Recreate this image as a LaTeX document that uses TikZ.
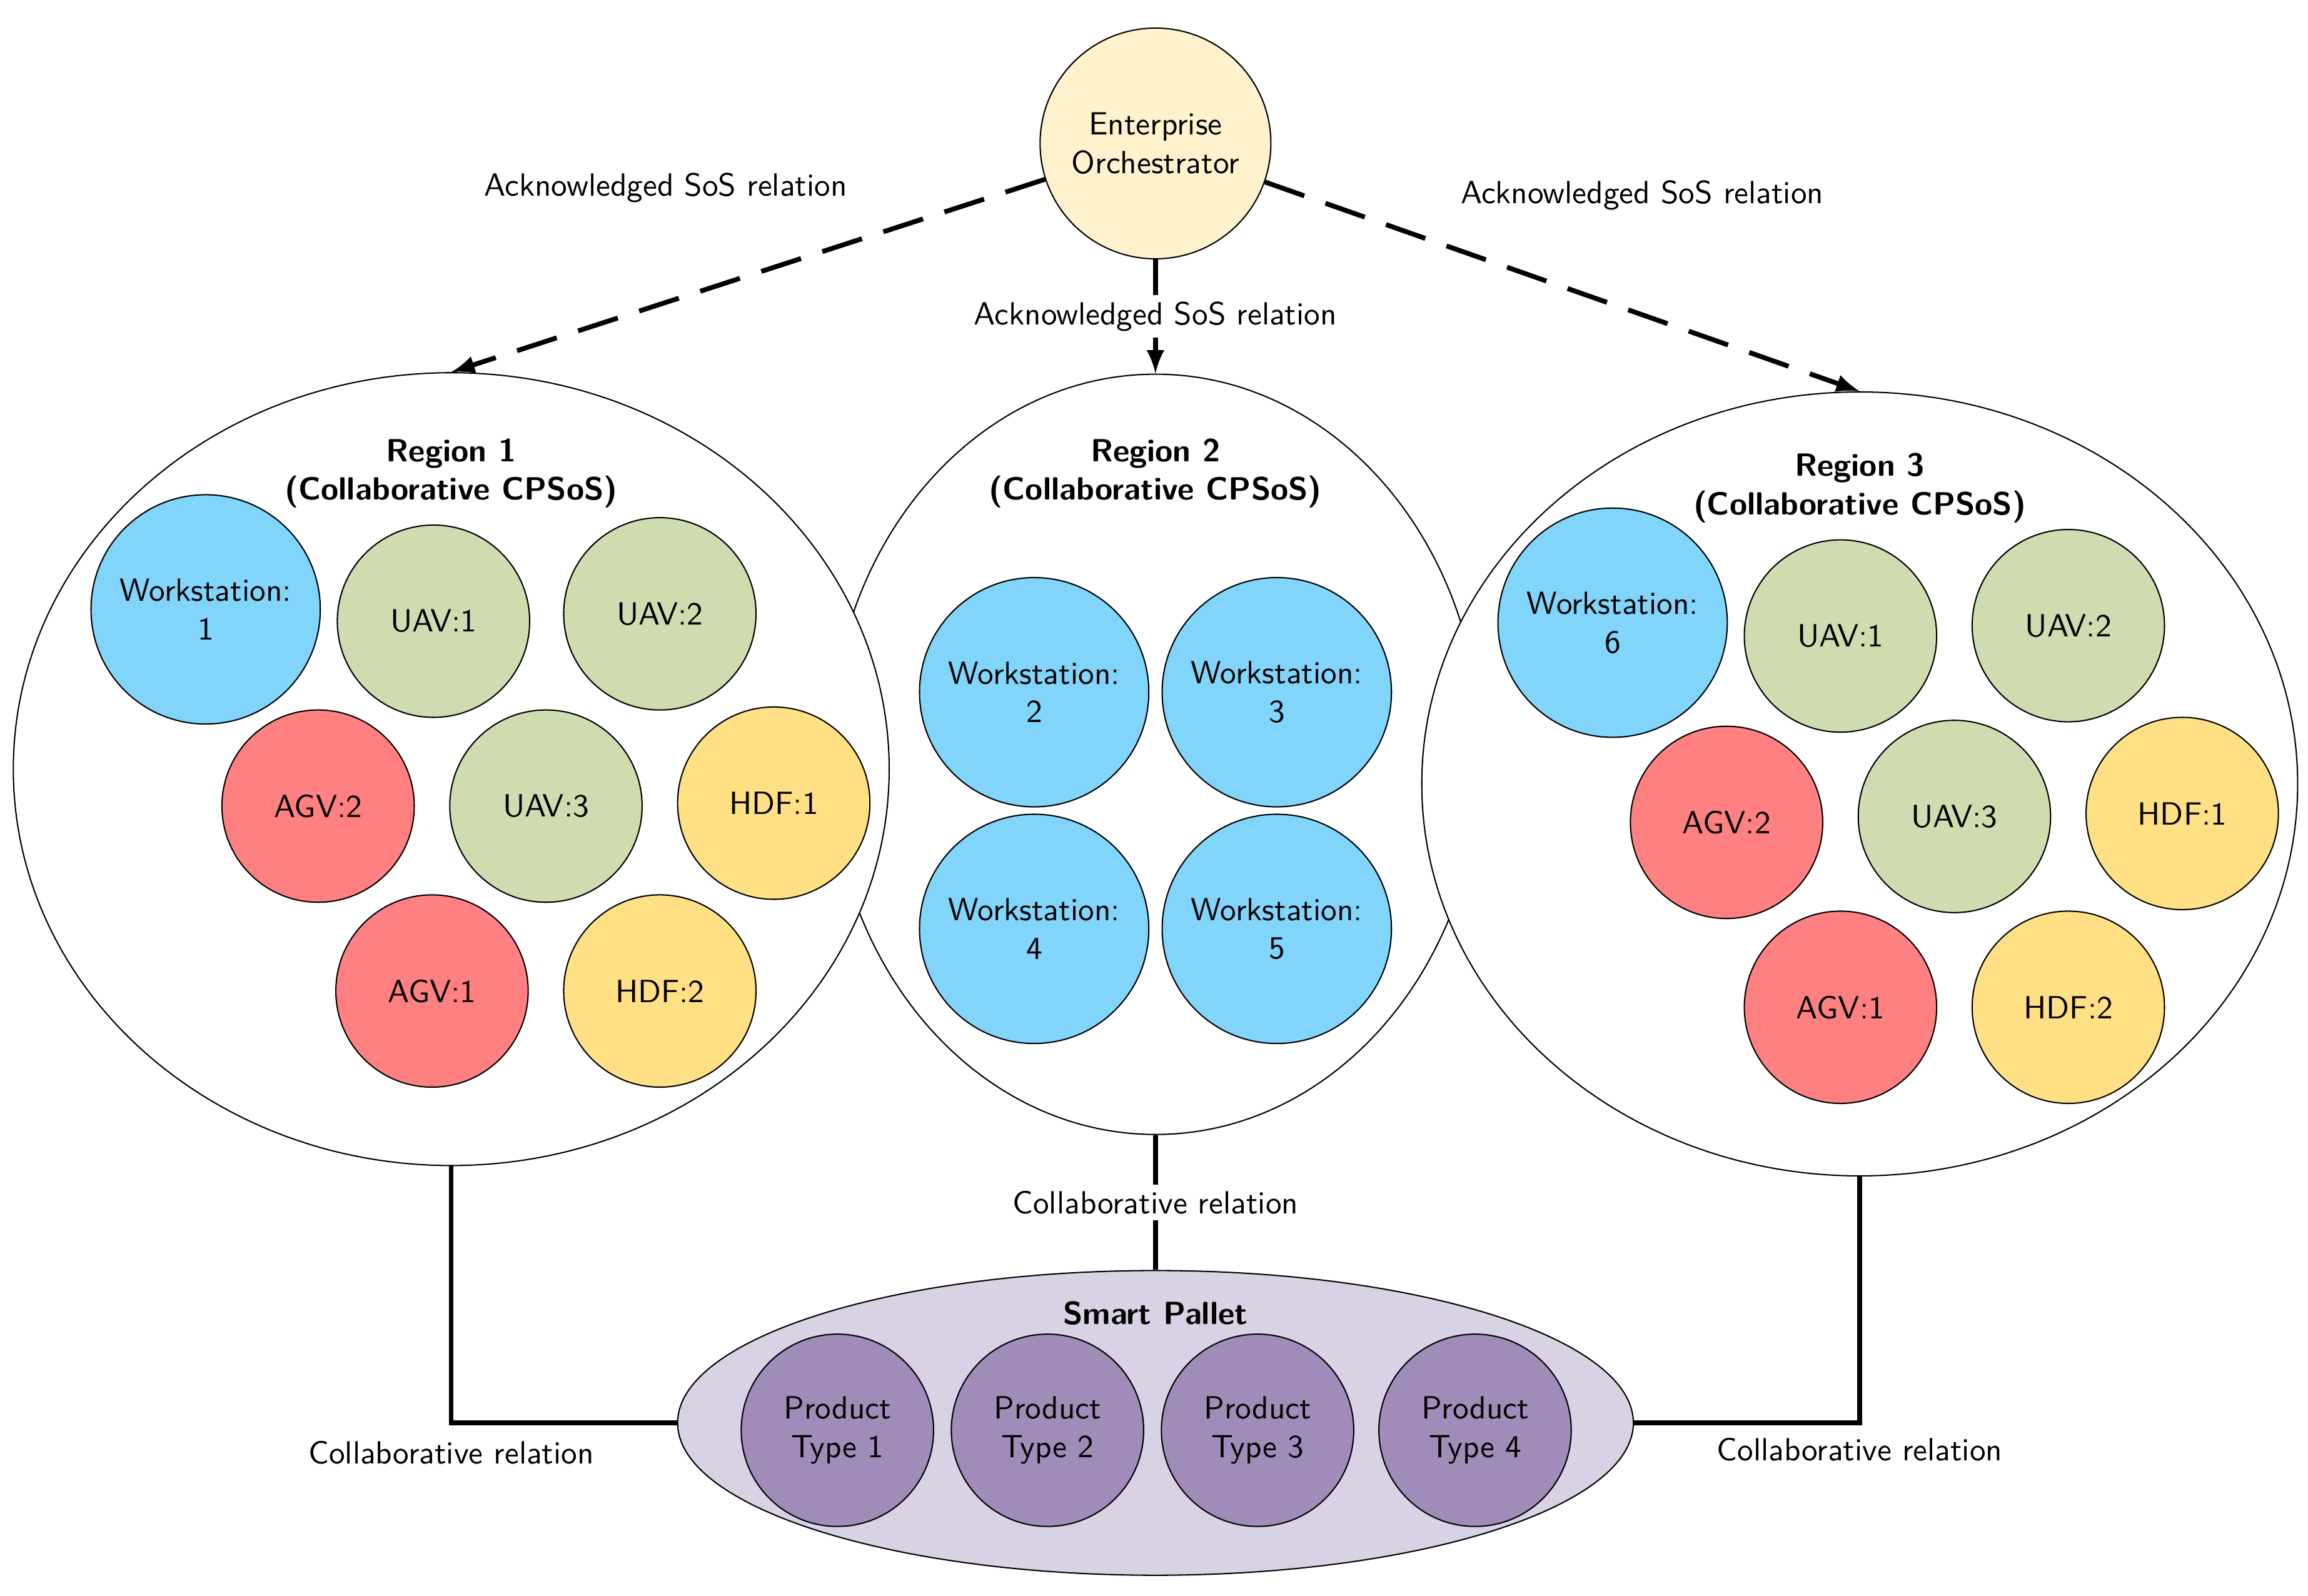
\documentclass[tikz,border=0pt]{standalone}
\usepackage{tikz}
\usetikzlibrary{shapes.geometric}
\renewcommand{\familydefault}{\sfdefault}
\definecolor{wsblue}{HTML}{81D4FA}
\definecolor{uavgreen}{HTML}{CFDCB0}
\definecolor{agvred}{HTML}{FF8080}
\definecolor{hdfyellow}{HTML}{FFE085}
\definecolor{orchyellow}{HTML}{FFF2CC}
\definecolor{prodpurple}{HTML}{9F8CB8}
\definecolor{palletpurple}{HTML}{D9D2E5}
\def\pu{0.0162cm}
\tikzset{
    ws/.style={shape=circle,draw=black,fill=wsblue,minimum size=155*\pu,align=center,inner sep=0pt},
    uav/.style={shape=circle,draw=black,fill=uavgreen,minimum size=130*\pu,inner sep=0pt},
    agv/.style={shape=circle,draw=black,fill=agvred,minimum size=130*\pu,inner sep=0pt},
    hdf/.style={shape=circle,draw=black,fill=hdfyellow,minimum size=130*\pu,inner sep=0pt},
    prod/.style={shape=circle,draw=black,fill=prodpurple,minimum size=130*\pu,align=center,inner sep=0pt},
    region/.style={shape=ellipse,draw=black,fill=white,inner sep=0pt},
    ack/.style={line width=1.5pt,dash pattern=on 13pt off 7pt,-latex},
    collab/.style={line width=1.5pt},
    lbl/.style={fill=white,inner sep=2pt},
    title/.style={font=\bfseries,align=center}
}
\begin{document}
\begin{tikzpicture}[x=\pu,y=-\pu]
    \useasboundingbox (0,0) rectangle (1560,1079);
    % regions
    \node[region,minimum width=440*\pu,minimum height=514*\pu] (r2) at (781,510) {};
    \node[region,minimum width=592*\pu,minimum height=536*\pu] (r1) at (305,520) {};
    \node[region,minimum width=592*\pu,minimum height=530*\pu] (r3) at (1257,530) {};
    \node[region,fill=palletpurple,minimum width=646*\pu,minimum height=206*\pu] (pallet) at (781,962) {};
    \node[shape=circle,draw=black,fill=orchyellow,minimum size=156*\pu,align=center,inner sep=0pt] (orch) at (781,97) {Enterprise\\Orchestrator};

    \node[title] (t1) at (305,320) {Region 1\\(Collaborative CPSoS)};
    \node[title] (t2) at (781,320) {Region 2\\(Collaborative CPSoS)};
    \node[title] (t3) at (1257,330) {Region 3\\(Collaborative CPSoS)};
    \node[title] (tp) at (781,888) {Smart Pallet};

    % region 1
    \node[ws] (ws1) at (139,412) {Workstation:\\1};
    \node[uav] (uav11) at (293,420) {UAV:1};
    \node[uav] (uav12) at (446,415) {UAV:2};
    \node[agv] (agv12) at (215,545) {AGV:2};
    \node[uav] (uav13) at (369,545) {UAV:3};
    \node[hdf] (hdf11) at (523,543) {HDF:1};
    \node[agv] (agv11) at (292,670) {AGV:1};
    \node[hdf] (hdf12) at (446,670) {HDF:2};

    % region 2
    \node[ws] (ws2) at (699,468) {Workstation:\\2};
    \node[ws] (ws3) at (863,468) {Workstation:\\3};
    \node[ws] (ws4) at (699,628) {Workstation:\\4};
    \node[ws] (ws5) at (863,628) {Workstation:\\5};

    % region 3
    \node[ws] (ws6) at (1090,421) {Workstation:\\6};
    \node[uav] (uav31) at (1244,430) {UAV:1};
    \node[uav] (uav32) at (1398,423) {UAV:2};
    \node[agv] (agv32) at (1167,556) {AGV:2};
    \node[uav] (uav33) at (1321,552) {UAV:3};
    \node[hdf] (hdf31) at (1475,550) {HDF:1};
    \node[agv] (agv31) at (1244,681) {AGV:1};
    \node[hdf] (hdf32) at (1398,681) {HDF:2};

    % smart pallet
    \node[prod] (p1) at (566,967) {Product\\Type 1};
    \node[prod] (p2) at (708,967) {Product\\Type 2};
    \node[prod] (p3) at (850,967) {Product\\Type 3};
    \node[prod] (p4) at (997,967) {Product\\Type 4};

    % acknowledged relations
    \draw[ack] (orch) -- (r1.north);
    \draw[ack] (orch) -- (r3.north);
    \draw[ack] (orch.south) -- (r2.north) node[midway,lbl] (a2) {Acknowledged SoS relation};
    \node (a1) at (450,127) {Acknowledged SoS relation};
    \node (a3) at (1110,132) {Acknowledged SoS relation};

    % collaborative relations
    \draw[collab] (r2.south) -- (pallet.north) node[midway,lbl] (c2) {Collaborative relation};
    \draw[collab] (r1.south) |- (pallet.west);
    \draw[collab] (r3.south) |- (pallet.east);
    \node (c1) at (305,982) {Collaborative relation};
    \node (c3) at (1257,980) {Collaborative relation};
\end{tikzpicture}
\end{document}
